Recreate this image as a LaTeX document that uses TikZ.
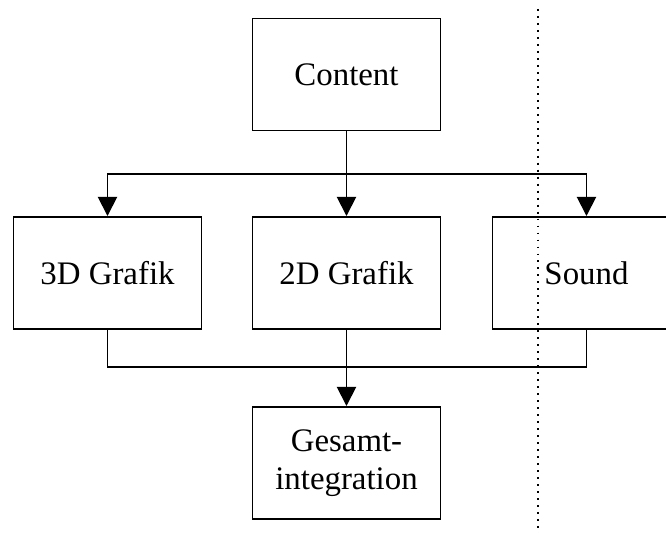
\documentclass[tikz,border=0pt]{standalone}
\usepackage{fontspec}
\setmainfont{Liberation Serif}
\usetikzlibrary{arrows.meta, positioning}

\tikzset{
    block/.style={draw, line width=0.7pt, minimum width=68.6pt, minimum height=40.9pt,
        align=center, font=\fontsize{12}{13.8}\selectfont, inner sep=2pt},
    flow/.style={line width=0.7pt},
    arr/.style={flow, -{Triangle[length=7pt, width=7pt]}}
}

\begin{document}
\begin{tikzpicture}[x=0.365pt, y=-0.365pt]
    \useasboundingbox (0,0) rectangle (666,533);
    \clip (0,0) rectangle (666,533);

    % Boxes
    \node[block] (content) at (346.5, 74.5) {Content};
    \node[block] (threed) at (107.5, 273) {3D Grafik};
    \node[block] (twod) at (346.5, 273) {2D Grafik};
    \node[block] (sound) at (586.5, 273) {Sound};
    \node[block] (gesamt) at (346.5, 463) {Gesamt-\\integration};

    % Split and merge points
    \coordinate (split) at (346.5, 174);
    \coordinate (merge) at (346.5, 367);

    % Content to the three parts
    \draw[flow] (content.south) -- (split);
    \draw[arr] (split) -| (threed.north);
    \draw[arr] (split) -- (twod.north);
    \draw[arr] (split) -| (sound.north);

    % Parts to integration
    \draw[flow] (threed.south) |- (merge);
    \draw[flow] (sound.south) |- (merge);
    \draw[arr] (twod.south) -- (gesamt.north);

    % Dotted separator
    \coordinate (septop) at (538, 9);
    \coordinate (sepbot) at (538, 533);
    \draw[line width=0.7pt, dash pattern=on 0.7pt off 1.85pt] (septop) -- (sepbot);
\end{tikzpicture}
\end{document}
